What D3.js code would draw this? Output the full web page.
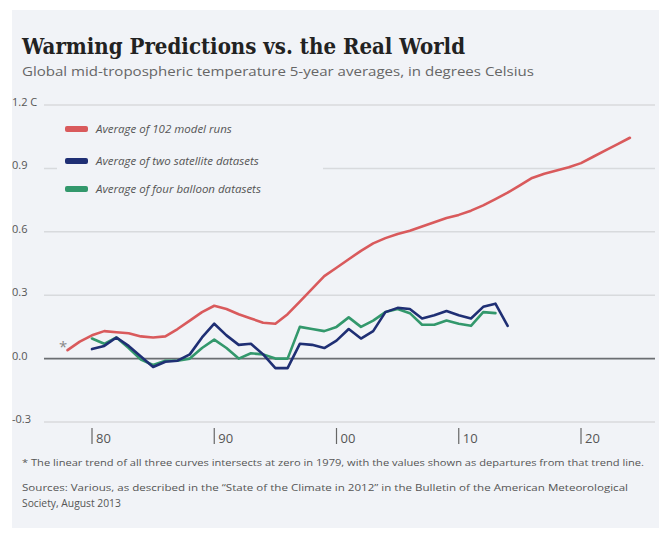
<!DOCTYPE html>
<html>
<head>
<meta charset="utf-8">
<script src="https://cdn.jsdelivr.net/npm/d3@7"></script>
<style>
  body { margin: 0; background: #fff; }
  text { font-family: "Open Sans", sans-serif; }
  text.title { font-family: "DejaVu Serif", serif; }
</style>
</head>
<body>
<div id="chart"></div>
<script>
// model runs, yearly
var modelYears = d3.range(1978, 2025);
var modelValues = [0.04, 0.08, 0.11, 0.13, 0.125, 0.12, 0.105, 0.10, 0.105, 0.14,
  0.18, 0.22, 0.25, 0.235, 0.21, 0.19, 0.17, 0.165, 0.21, 0.27,
  0.33, 0.39, 0.43, 0.47, 0.51, 0.545, 0.57, 0.59, 0.605, 0.625,
  0.645, 0.665, 0.68, 0.70, 0.725, 0.755, 0.785, 0.82, 0.855, 0.875,
  0.89, 0.905, 0.925, 0.955, 0.985, 1.015, 1.045];

var satYears = d3.range(1980, 2015);
var satValues = [0.045, 0.06, 0.10, 0.06, 0.01, -0.04, -0.015, -0.01, 0.02, 0.10,
  0.165, 0.11, 0.065, 0.07, 0.02, -0.045, -0.045, 0.07, 0.065, 0.05,
  0.085, 0.14, 0.095, 0.13, 0.22, 0.24, 0.235, 0.19, 0.205, 0.225,
  0.205, 0.19, 0.245, 0.26, 0.155];

var balloonYears = d3.range(1980, 2014);
var balloonValues = [0.095, 0.07, 0.10, 0.05, -0.005, -0.03, -0.01, -0.01, 0.0, 0.05,
  0.09, 0.05, 0.0, 0.025, 0.02, 0.0, 0.0, 0.15, 0.14, 0.13,
  0.15, 0.195, 0.15, 0.18, 0.22, 0.235, 0.215, 0.16, 0.16, 0.18,
  0.165, 0.155, 0.22, 0.215];

var yTicks = [-0.3, 0, 0.3, 0.6, 0.9, 1.2];
var yTickLabels = ["-0.3", "0.0", "0.3", "0.6", "0.9", "1.2 C"];
var xTicks = [1980, 1990, 2000, 2010, 2020];
var xTickLabels = ["80", "90", "00", "10", "20"];

var legendNames = ["Average of 102 model runs", "Average of two satellite datasets", "Average of four balloon datasets"];
var colors = ["#d95a5c", "#1f2f74", "#33986c"];

var W = 659, H = 533;
var svg = d3.select("#chart").append("svg")
    .attr("width", W).attr("height", H);

// panel
svg.append("rect")
    .attr("x", 12).attr("y", 10)
    .attr("width", W - 12).attr("height", 518)
    .attr("fill", "#f1f3f7");

svg.append("text")
    .attr("class", "title")
    .attr("x", 22).attr("y", 54)
    .attr("font-weight", "bold")
    .attr("font-size", 23)
    .attr("fill", "#222")
    .attr("textLength", 443)
    .attr("lengthAdjust", "spacingAndGlyphs")
    .text("Warming Predictions vs. the Real World");

svg.append("text")
    .attr("x", 22).attr("y", 76)
    .attr("font-size", 13.5)
    .attr("fill", "#666")
    .attr("textLength", 512)
    .attr("lengthAdjust", "spacingAndGlyphs")
    .text("Global mid-tropospheric temperature 5-year averages, in degrees Celsius");

var x = d3.scaleLinear().domain([1980, 2020]).range([92, 581]);
var y = d3.scaleLinear().domain([-0.3, 1.2]).range([422, 105]);

// grid
var grid = svg.append("g");
grid.selectAll("line")
    .data(yTicks)
    .enter().append("line")
    .attr("x1", 44).attr("x2", 655)
    .attr("y1", function (d) { return y(d); })
    .attr("y2", function (d) { return y(d); })
    .attr("stroke", function (d) { return d === 0 ? "#6b6e72" : "#d8dadd"; })
    .attr("stroke-width", function (d) { return d === 0 ? 1.6 : 1.5; });

grid.selectAll("text")
    .data(yTicks)
    .enter().append("text")
    .attr("x", 12)
    .attr("y", function (d) { return y(d) + 1; })
    .attr("font-size", 11)
    .attr("fill", "#555")
    .text(function (d, i) { return yTickLabels[i]; });

// x ticks
var xAxis = svg.append("g");
xAxis.selectAll("line")
    .data(xTicks)
    .enter().append("line")
    .attr("x1", function (d) { return x(d); })
    .attr("x2", function (d) { return x(d); })
    .attr("y1", 428).attr("y2", 444)
    .attr("stroke", "#666").attr("stroke-width", 1.2);
xAxis.selectAll("text")
    .data(xTicks)
    .enter().append("text")
    .attr("x", function (d) { return x(d) + 4; })
    .attr("y", 443)
    .attr("font-size", 13)
    .attr("fill", "#555")
    .text(function (d, i) { return xTickLabels[i]; });

// legend box covers gridline
svg.append("rect")
    .attr("x", 57).attr("y", 115)
    .attr("width", 266).attr("height", 85)
    .attr("fill", "#f1f3f7");

var line = d3.line()
    .x(function (d) { return x(d[0]); })
    .y(function (d) { return y(d[1]); });

var series = [
  d3.zip(modelYears, modelValues),
  d3.zip(satYears, satValues),
  d3.zip(balloonYears, balloonValues)
];

// draw green, then blue, then red
[2, 1, 0].forEach(function (i) {
  svg.append("path")
      .datum(series[i])
      .attr("d", line)
      .attr("fill", "none")
      .attr("stroke", colors[i])
      .attr("stroke-width", 2.6)
      .attr("stroke-linejoin", "round")
      .attr("stroke-linecap", "round");
});

svg.append("text")
    .attr("x", x(1977.3)).attr("y", y(0.03))
    .attr("font-size", 15)
    .attr("fill", "#888")
    .text("*");

// legend
var legend = svg.append("g");
var legendY = [129, 161, 189];
legend.selectAll("rect")
    .data(legendNames)
    .enter().append("rect")
    .attr("x", 65)
    .attr("y", function (d, i) { return legendY[i] - 3; })
    .attr("width", 23).attr("height", 6).attr("rx", 2)
    .attr("fill", function (d, i) { return colors[i]; });
legend.selectAll("text")
    .data(legendNames)
    .enter().append("text")
    .attr("x", 96)
    .attr("y", function (d, i) { return legendY[i] + 4; })
    .attr("font-size", 11.5)
    .attr("font-style", "italic")
    .attr("fill", "#555")
    .text(function (d) { return d; });

// notes
svg.append("text")
    .attr("x", 22).attr("y", 466)
    .attr("font-size", 9.5)
    .attr("fill", "#555")
    .attr("textLength", 622)
    .attr("lengthAdjust", "spacingAndGlyphs")
    .text("* The linear trend of all three curves intersects at zero in 1979, with the values shown as departures from that trend line.");
svg.append("text")
    .attr("x", 22).attr("y", 491)
    .attr("font-size", 9.8)
    .attr("fill", "#555")
    .attr("textLength", 606)
    .attr("lengthAdjust", "spacingAndGlyphs")
    .text("Sources: Various, as described in the \u201cState of the Climate in 2012\u201d in the Bulletin of the American Meteorological");
svg.append("text")
    .attr("x", 22).attr("y", 507)
    .attr("font-size", 10.3)
    .attr("fill", "#555")
    .text("Society, August 2013");
</script>
</body>
</html>
